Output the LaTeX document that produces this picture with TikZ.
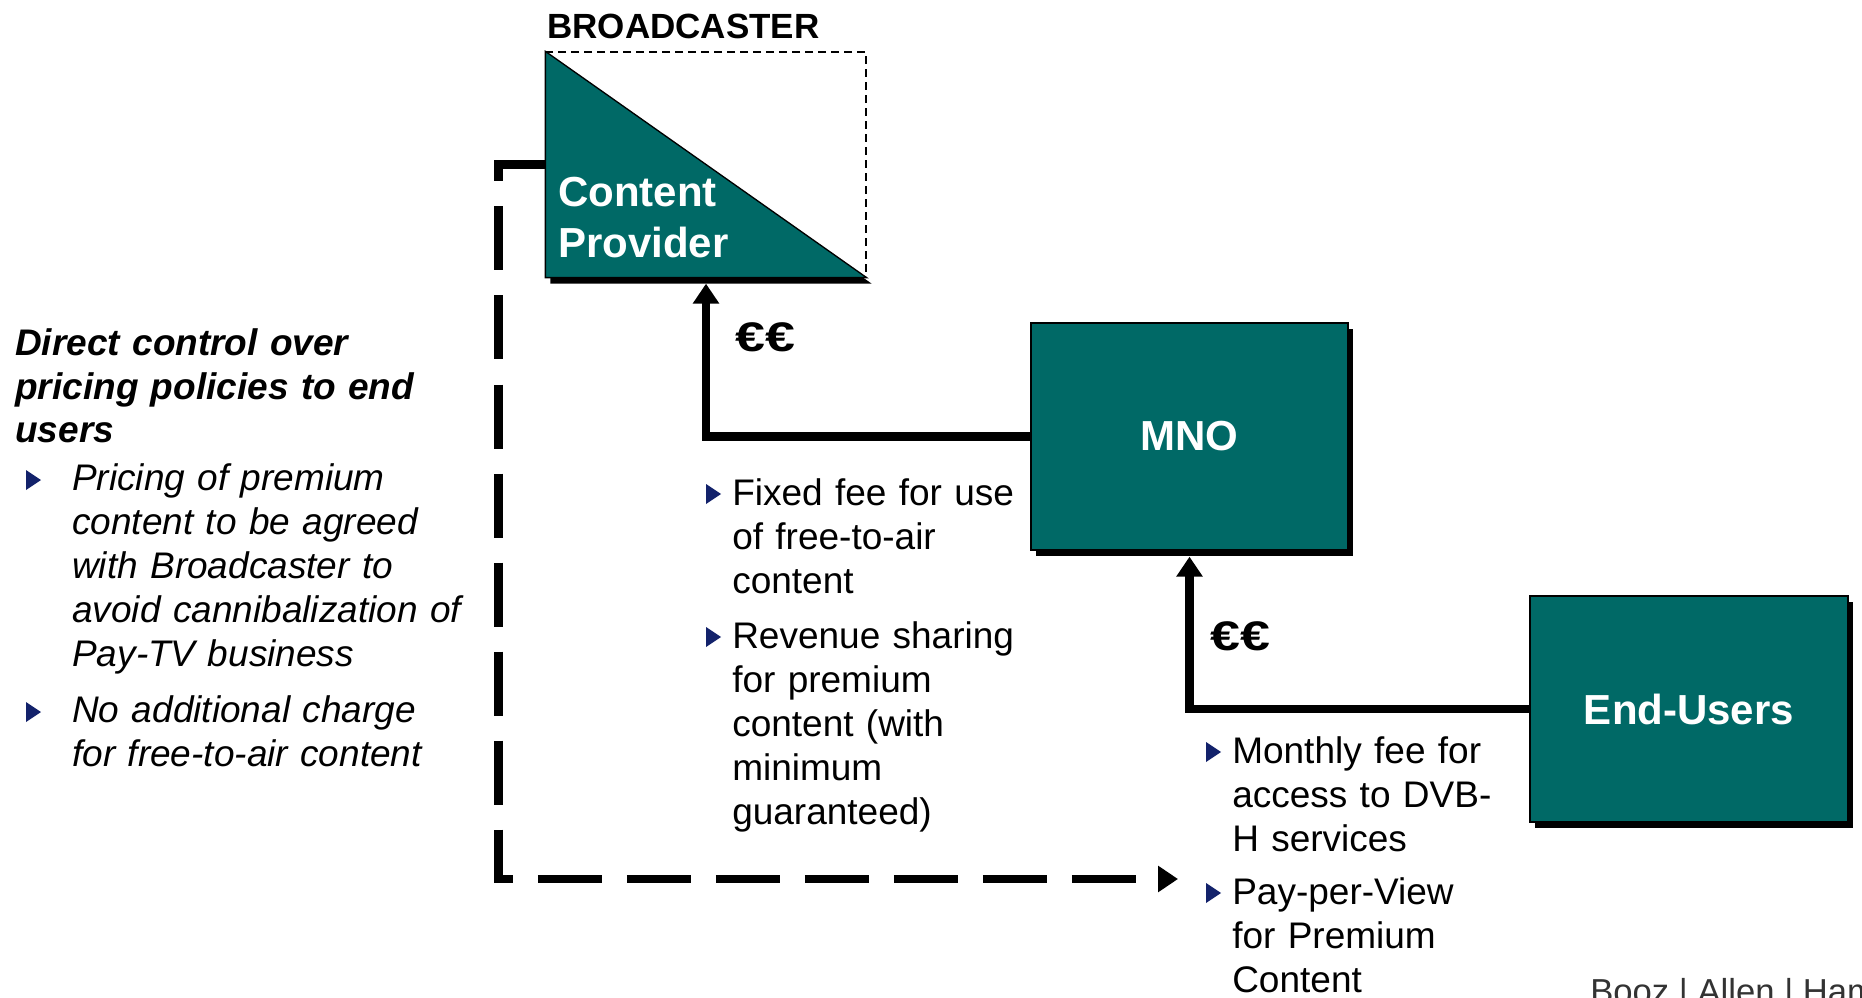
\documentclass[tikz,border=0pt]{standalone}
\usepackage{fontspec}
\setmainfont{Liberation Sans}
\usetikzlibrary{arrows.meta,shadows}
\definecolor{boxteal}{HTML}{006966}
\definecolor{navybul}{HTML}{13226B}
\newcommand\bodysize{\fontsize{27.75pt}{33pt}\selectfont}
\newcommand\labelsize{\fontsize{31.5pt}{38.25pt}\selectfont}
\tikzset{
  actor/.style={draw=black, line width=1pt, fill=boxteal, text=white,
    font=\bfseries\labelsize, inner sep=0pt,
    general shadow={fill=black, shadow xshift=3.75pt, shadow yshift=-4.5pt}},
  flow/.style={line width=6.5pt, -{Triangle[length=15pt,width=19pt]}},
  dashflow/.style={flow, dash pattern=on 48pt off 18.75pt},
  body/.style={anchor=base west, inner sep=0pt, text width=330pt, align=left},
  money/.style={anchor=base west, inner sep=0pt, font=\bfseries\fontsize{31pt}{34pt}\selectfont},
  bul/.pic={\fill[navybul] (0,-10) -- (15,0) -- (0,10) -- cycle;}
}
\begin{document}
\begin{tikzpicture}[x=0.75pt, y=-0.75pt]
\useasboundingbox (0,0) rectangle (1862,998);

% broadcaster frame and content provider triangle
\node[draw, line width=1pt, dash pattern=on 6pt off 3.75pt, inner sep=0pt,
      minimum width=240pt, minimum height=168.75pt] (bc) at (706,164.5) {};
\path[fill=boxteal, draw=black, line width=1pt,
      general shadow={fill=black, shadow xshift=3.75pt, shadow yshift=-4.5pt}]
  (bc.north west) -- (bc.south west) -- (bc.south east) -- cycle;
\node[anchor=base west, inner sep=0pt, font=\bfseries\fontsize{26.25pt}{30pt}\selectfont]
  (bctitle) at (547,39) {BROADCASTER};
\node[anchor=base west, inner sep=0pt, text width=200pt, align=left, text=white,
      font=\bfseries\labelsize] (cp) at (558,207) {Content\\Provider};

% actors
\node[actor, minimum width=237.75pt, minimum height=170.25pt] (mno) at (1189.5,436.5) {MNO};
\node[actor, minimum width=238.5pt, minimum height=169.5pt] (eu) at (1689,709) {End-Users};

% money flows
\draw[flow, shorten >=4.5pt] (mno.west) -| (bc.south);
\draw[flow, shorten >=4.5pt] (eu.west) -| (mno.south);
\node[money] (eur1) at (735,352) {\scalebox{1.3}[1]{€€}};
\node[money] (eur2) at (1210,650) {\scalebox{1.3}[1]{€€}};

% pricing control path
\coordinate (ppv) at (1178,879);
\draw[dashflow] (bc.west) -- ++(-47,0) |- (ppv);

% left notes
\node[body, font=\bfseries\itshape\bodysize] (ctl) at (15,355)
  {Direct control over\\pricing policies to end\\users};
\pic at (26,480) {bul};
\node[body, font=\itshape\bodysize] (ctl1) at (72,490)
  {Pricing of premium\\content to be agreed\\with Broadcaster to\\avoid cannibalization of\\Pay-TV business};
\pic at (26,712) {bul};
\node[body, font=\itshape\bodysize] (ctl2) at (72,722)
  {No additional charge\\for free-to-air content};

% MNO to content provider terms
\pic at (706,494) {bul};
\node[body, font=\bodysize] (fee1) at (732,505) {Fixed fee for use\\of free-to-air\\content};
\pic at (706,637) {bul};
\node[body, font=\bodysize] (fee2) at (732,648)
  {Revenue sharing\\for premium\\content (with\\minimum\\guaranteed)};

% end-user terms
\pic at (1206,752) {bul};
\node[body, font=\bodysize] (eu1) at (1232,763) {Monthly fee for\\access to DVB-\\H services};
\pic at (1206,893) {bul};
\node[body, font=\bodysize] (eu2) at (1232,904) {Pay-per-View\\for Premium\\Content};

% footer
\node[anchor=base west, inner sep=0pt, text=black!80, font=\fontsize{26pt}{30pt}\selectfont]
  (logo) at (1590,1003) {Booz | Allen | Hamilton};
\end{tikzpicture}
\end{document}
